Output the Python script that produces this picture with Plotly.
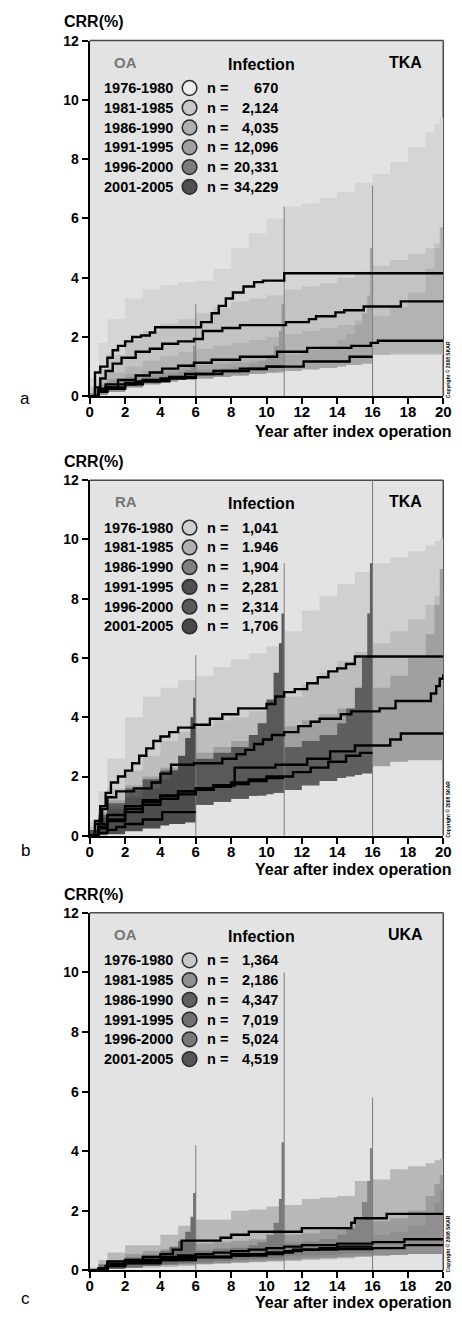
import plotly.graph_objects as go

W, H = 462, 1317
FONT = "Liberation Sans, Arial, sans-serif"

# ---------------- legend data ----------------
PERIODS = ["1976-1980", "1981-1985", "1986-1990", "1991-1995", "1996-2000", "2001-2005"]
N_A = ["670", "2,124", "4,035", "12,096", "20,331", "34,229"]
N_B = ["1,041", "1.946", "1,904", "2,281", "2,314", "1,706"]
N_C = ["1,364", "2,186", "4,347", "7,019", "5,024", "4,519"]
DIAG = ["OA", "RA", "OA"]
IMPLANT = ["TKA", "TKA", "UKA"]
PANEL_LETTERS = ["a", "b", "c"]
X_TICKS = [0, 2, 4, 6, 8, 10, 12, 14, 16, 18, 20]
Y_TICKS = [0, 2, 4, 6, 8, 10, 12]

# ---------------- band grids (years) ----------------
G20 = [0, 0.5, 1, 2, 3, 4, 5, 6, 7, 8, 9, 10, 11, 12, 13, 14, 15, 16, 17, 18, 19, 19.5, 19.8, 20]
G16 = [0, 0.5, 1, 2, 3, 4, 5, 6, 7, 8, 9, 10, 11, 12, 13, 14, 14.5, 15, 15.4, 15.7, 15.85, 16]
G11 = [0, 0.5, 1, 2, 3, 4, 5, 6, 7, 8, 9, 9.5, 10, 10.4, 10.7, 10.85, 11]
G6 = [0, 0.5, 1, 2, 3, 4, 4.5, 5, 5.4, 5.7, 5.85, 6]

# ---------------- panel a: OA TKA ----------------
A76_X = [0, 0.3, 0.6, 1.0, 1.3, 1.6, 2.0, 2.4, 2.9, 3.4, 3.7, 6.3, 6.9, 7.3, 7.7, 8.1, 8.7, 9.3, 9.8, 11.0, 20]
A76_Y = [0, 0.8, 1.0, 1.3, 1.55, 1.7, 1.85, 2.0, 2.05, 2.15, 2.33, 2.5, 2.8, 3.05, 3.3, 3.5, 3.7, 3.85, 3.9, 4.15, 4.15]
A81_X = [0, 0.3, 0.6, 0.9, 1.3, 1.8, 2.6, 3.4, 4.1, 5.0, 5.9, 6.4, 7.5, 8.5, 11.1, 12.4, 12.8, 13.9, 14.4, 15.5, 17.6, 20]
A81_Y = [0, 0.3, 0.6, 0.85, 1.1, 1.3, 1.5, 1.6, 1.77, 1.85, 1.93, 2.2, 2.3, 2.4, 2.5, 2.6, 2.7, 2.83, 2.9, 3.03, 3.2, 3.2]
A86_X = [0, 0.5, 0.9, 1.6, 2.6, 3.4, 4.1, 5.0, 5.9, 6.9, 8.5, 10.6, 12.3, 14.8, 15.9, 16.3, 20]
A86_Y = [0, 0.25, 0.4, 0.55, 0.7, 0.8, 0.93, 1.03, 1.13, 1.23, 1.33, 1.5, 1.63, 1.7, 1.8, 1.87, 1.87]
A91_X = [0, 0.5, 0.9, 1.6, 2.6, 4.0, 5.4, 7.0, 8.5, 10.0, 12.1, 14.7, 16.0]
A91_Y = [0, 0.2, 0.3, 0.4, 0.5, 0.6, 0.75, 0.85, 0.93, 1.0, 1.17, 1.33, 1.33]
A96_X = [0, 0.5, 1.0, 2.0, 3.0, 4.5, 6.0, 7.5, 9.0, 10.0, 11.0]
A96_Y = [0, 0.2, 0.3, 0.45, 0.55, 0.65, 0.75, 0.85, 0.92, 1.0, 1.0]
A01_X = [0, 0.5, 1.0, 2.0, 3.0, 4.5, 6.0]
A01_Y = [0, 0.15, 0.25, 0.4, 0.5, 0.62, 0.67]

A76_HI = [0.6, 1.8, 2.6, 3.3, 3.6, 3.75, 3.85, 3.9, 4.3, 5.0, 5.5, 6.0, 6.4, 6.5, 6.7, 6.9, 7.2, 7.5, 7.9, 8.4, 8.9, 9.2, 9.4, 9.5]
A76_LO = [0, 0.1, 0.3, 0.5, 0.7, 0.9, 1.0, 1.1, 1.3, 1.5, 1.7, 1.9, 2.0, 2.0, 2.0, 2.0, 2.0, 2.0, 2.0, 2.0, 2.0, 2.0, 2.0, 2.0]
A81_HI = [0.3, 0.9, 1.4, 1.9, 2.2, 2.45, 2.6, 2.8, 3.0, 3.2, 3.3, 3.4, 3.6, 3.7, 3.8, 4.0, 4.2, 4.4, 4.6, 4.8, 5.0, 5.15, 5.25, 5.3]
A81_LO = [0, 0.05, 0.3, 0.6, 0.8, 0.9, 1.0, 1.1, 1.15, 1.2, 1.25, 1.3, 1.35, 1.4, 1.4, 1.4, 1.4, 1.4, 1.4, 1.4, 1.4, 1.4, 1.4, 1.4]
A86_HI = [0.1, 0.5, 0.8, 1.0, 1.2, 1.35, 1.5, 1.6, 1.7, 1.8, 1.9, 2.0, 2.1, 2.2, 2.3, 2.4, 2.55, 2.7, 3.0, 3.5, 4.3, 5.0, 5.7, 6.2]
A86_LO = [0, 0.1, 0.2, 0.35, 0.5, 0.65, 0.8, 0.9, 0.95, 1.0, 1.1, 1.15, 1.2, 1.25, 1.3, 1.35, 1.4, 1.4, 1.45, 1.45, 1.45, 1.45, 1.45, 1.45]
A91_HI = [0.1, 0.4, 0.6, 0.75, 0.85, 0.95, 1.0, 1.05, 1.1, 1.15, 1.2, 1.3, 1.4, 1.55, 1.7, 1.9, 2.1, 2.4, 2.8, 3.4, 5.0, 5.0]
A91_LO = [0, 0.05, 0.15, 0.3, 0.4, 0.5, 0.55, 0.6, 0.65, 0.7, 0.75, 0.8, 0.85, 0.9, 0.95, 1.0, 1.05, 1.05, 1.1, 1.1, 1.1, 1.1]
A96_HI = [0.1, 0.35, 0.55, 0.65, 0.75, 0.8, 0.85, 0.9, 0.95, 1.0, 1.1, 1.2, 1.4, 1.7, 2.2, 3.1, 3.1]
A96_LO = [0, 0.05, 0.15, 0.3, 0.4, 0.5, 0.55, 0.6, 0.65, 0.7, 0.75, 0.8, 0.8, 0.8, 0.85, 0.85, 0.85]
A01_HI = [0.1, 0.3, 0.45, 0.55, 0.65, 0.7, 0.75, 0.8, 0.9, 1.1, 1.7, 1.7]
A01_LO = [0, 0.05, 0.15, 0.3, 0.4, 0.5, 0.55, 0.55, 0.6, 0.6, 0.6, 0.6]
A_SPIKE_X = [6, 11, 16]
A_SPIKE_TOP = [3.1, 6.4, 7.1]

# ---------------- panel b: RA TKA ----------------
B76_X = [0, 0.3, 0.6, 0.9, 1.2, 1.6, 2.0, 2.4, 2.8, 3.2, 3.6, 4.0, 4.5, 5.0, 5.9, 6.8, 7.5, 8.4, 10.0, 10.5, 11.0, 11.6, 12.3, 12.9, 13.5, 14.0, 14.5, 15.0, 20]
B76_Y = [0, 0.5, 1.0, 1.45, 1.8, 2.0, 2.2, 2.45, 2.7, 2.95, 3.2, 3.35, 3.5, 3.65, 3.75, 3.95, 4.1, 4.3, 4.45, 4.7, 4.85, 4.95, 5.15, 5.35, 5.55, 5.65, 5.8, 6.05, 6.05]
B81_X = [0, 0.3, 0.7, 1.0, 1.5, 2.5, 3.5, 4.0, 4.6, 5.9, 7.5, 8.3, 8.8, 9.3, 9.8, 10.3, 11.0, 11.8, 12.5, 13.0, 14.2, 14.8, 16.4, 17.3, 19.3, 19.6, 19.8, 20]
B81_Y = [0, 0.4, 0.9, 1.3, 1.5, 1.6, 1.8, 2.1, 2.4, 2.45, 2.6, 2.75, 2.9, 3.1, 3.25, 3.4, 3.5, 3.7, 3.85, 3.95, 4.1, 4.2, 4.3, 4.55, 4.8, 5.05, 5.3, 5.45]
B86_X = [0, 0.5, 1.0, 2.0, 3.0, 4.0, 5.0, 6.0, 7.0, 8.2, 10.5, 12.3, 13.6, 15.0, 17.0, 17.6, 20]
B86_Y = [0, 0.4, 0.7, 1.0, 1.2, 1.35, 1.5, 1.6, 1.7, 2.3, 2.4, 2.6, 2.85, 3.05, 3.25, 3.45, 3.45]
B91_X = [0, 0.5, 1, 2, 3, 4, 5, 6, 7, 8, 9, 10, 11.5, 12.5, 13.5, 14.5, 15.3, 16]
B91_Y = [0, 0.3, 0.55, 0.9, 1.15, 1.35, 1.5, 1.6, 1.7, 1.8, 1.9, 2.0, 2.15, 2.3, 2.5, 2.7, 2.8, 2.8]
B96_X = [0, 0.5, 1, 2, 3, 4, 5, 6, 7, 8, 9, 10, 11]
B96_Y = [0, 0.25, 0.5, 0.8, 1.05, 1.25, 1.4, 1.55, 1.65, 1.75, 1.85, 1.95, 1.95]
B01_X = [0, 0.5, 1, 1.5, 2, 3, 4.1, 6]
B01_Y = [0, 0.1, 0.2, 0.3, 0.4, 0.55, 0.8, 0.8]

B76_HI = [0.5, 1.5, 2.6, 4.0, 4.7, 5.0, 5.25, 5.4, 5.7, 5.95, 6.15, 6.4, 6.9, 7.6, 8.1, 8.5, 8.9, 9.2, 9.4, 9.6, 9.8, 9.95, 10.05, 10.1]
B76_LO = [0, 0.2, 0.5, 0.9, 1.3, 1.7, 2.0, 2.3, 2.5, 2.7, 2.9, 3.1, 3.3, 3.5, 3.7, 3.9, 4.0, 4.1, 4.2, 4.3, 4.4, 4.4, 4.4, 4.4]
B81_HI = [0.3, 1.0, 1.6, 2.2, 2.7, 3.2, 3.5, 3.7, 3.9, 4.0, 4.2, 4.4, 4.7, 5.1, 5.5, 5.9, 6.2, 6.5, 6.9, 7.3, 7.8, 8.1, 8.3, 8.5]
B81_LO = [0, 0.1, 0.3, 0.7, 1.0, 1.3, 1.5, 1.7, 1.9, 2.1, 2.3, 2.5, 2.7, 2.9, 3.1, 3.3, 3.4, 3.5, 3.6, 3.7, 3.8, 3.8, 3.8, 3.8]
B86_HI = [0.2, 0.8, 1.2, 1.7, 2.0, 2.3, 2.6, 2.8, 3.0, 3.2, 3.35, 3.5, 3.7, 3.9, 4.1, 4.3, 4.6, 5.0, 5.4, 6.0, 6.8, 7.8, 9.0, 10.0]
B86_LO = [0, 0.05, 0.2, 0.5, 0.7, 0.9, 1.05, 1.2, 1.35, 1.5, 1.6, 1.7, 1.8, 1.9, 2.0, 2.1, 2.2, 2.35, 2.5, 2.55, 2.55, 2.55, 2.55, 2.55]
B91_HI = [0.2, 0.7, 1.1, 1.6, 1.9, 2.1, 2.3, 2.45, 2.6, 2.7, 2.8, 2.9, 3.0, 3.2, 3.4, 3.8, 4.3, 5.0, 6.0, 7.5, 9.2, 9.2]
B91_LO = [0, 0.05, 0.2, 0.45, 0.65, 0.8, 0.95, 1.05, 1.15, 1.25, 1.35, 1.45, 1.55, 1.7, 1.85, 1.95, 2.0, 2.05, 2.1, 2.1, 2.1, 2.1]
B96_HI = [0.2, 0.6, 1.0, 1.5, 1.9, 2.2, 2.4, 2.6, 2.8, 3.0, 3.4, 3.8, 4.6, 5.5, 6.5, 7.5, 7.5]
B96_LO = [0, 0.05, 0.15, 0.35, 0.5, 0.65, 0.8, 1.05, 1.15, 1.25, 1.35, 1.4, 1.4, 1.45, 1.45, 1.45, 1.45]
B01_HI = [0.2, 0.6, 0.9, 1.3, 1.6, 1.9, 2.2, 2.7, 3.3, 4.0, 4.66, 4.66]
B01_LO = [0, 0.02, 0.05, 0.15, 0.25, 0.35, 0.4, 0.4, 0.45, 0.45, 0.45, 0.45]
B_SPIKE_X = [6, 11, 16]
B_SPIKE_TOP = [6.1, 9.2, 12.0]

# ---------------- panel c: OA UKA ----------------
C76_X = [0, 0.5, 0.9, 1.0, 2.0, 3.0, 4.0, 4.7, 5.2, 7.4, 8.0, 9.0, 12.0, 14.8, 15.0, 16.8, 20]
C76_Y = [0, 0.05, 0.15, 0.3, 0.35, 0.45, 0.55, 0.7, 1.0, 1.1, 1.2, 1.3, 1.42, 1.6, 1.75, 1.9, 1.9]
C81_X = [0, 0.5, 1.0, 2, 3, 4, 5, 6, 7, 8, 9, 10, 11, 12, 14, 16, 17.8, 20]
C81_Y = [0, 0.05, 0.2, 0.3, 0.35, 0.45, 0.5, 0.55, 0.6, 0.65, 0.7, 0.75, 0.8, 0.85, 0.9, 0.95, 1.05, 1.05]
C86_X = [0, 0.5, 1.0, 2, 3, 4, 5, 6, 8, 9, 10, 11, 12, 14, 16, 17.8, 20]
C86_Y = [0, 0.05, 0.15, 0.25, 0.3, 0.35, 0.4, 0.45, 0.5, 0.55, 0.6, 0.65, 0.7, 0.72, 0.75, 0.85, 0.88]
C91_X = [0, 0.5, 1, 2, 4, 6, 8, 10, 11.5, 13, 14, 16]
C91_Y = [0, 0.05, 0.2, 0.3, 0.4, 0.45, 0.55, 0.6, 0.7, 0.75, 0.8, 0.8]
C96_X = [0, 0.5, 1, 2, 4, 6, 8, 10, 11]
C96_Y = [0, 0.05, 0.2, 0.25, 0.35, 0.45, 0.5, 0.55, 0.55]
C01_X = [0, 0.5, 1, 2, 4, 5, 6]
C01_Y = [0, 0.05, 0.15, 0.25, 0.4, 0.45, 0.45]

C76_HI = [0.1, 0.35, 0.6, 0.85, 0.85, 1.2, 1.5, 1.7, 1.7, 2.0, 2.05, 2.15, 2.2, 2.4, 2.45, 2.5, 3.0, 3.05, 3.4, 3.5, 3.6, 3.7, 3.75, 3.75]
C76_LO = [0, 0.02, 0.05, 0.08, 0.1, 0.12, 0.15, 0.2, 0.22, 0.25, 0.28, 0.3, 0.32, 0.35, 0.38, 0.4, 0.45, 0.5, 0.55, 0.6, 0.6, 0.6, 0.6, 0.6]
C81_HI = [0.05, 0.2, 0.35, 0.55, 0.65, 0.72, 0.8, 0.9, 0.95, 1.0, 1.05, 1.1, 1.2, 1.25, 1.35, 1.45, 1.55, 1.65, 1.75, 2.0, 2.5, 2.9, 3.2, 3.4]
C81_LO = [0, 0.02, 0.05, 0.1, 0.15, 0.2, 0.22, 0.25, 0.28, 0.3, 0.33, 0.36, 0.4, 0.43, 0.46, 0.5, 0.52, 0.55, 0.58, 0.6, 0.6, 0.6, 0.6, 0.6]
C86_HI = [0.05, 0.18, 0.3, 0.45, 0.55, 0.6, 0.65, 0.7, 0.75, 0.8, 0.85, 0.9, 0.95, 1.0, 1.05, 1.1, 1.15, 1.2, 1.3, 1.5, 1.9, 2.3, 2.7, 3.0]
C86_LO = [0, 0.02, 0.05, 0.1, 0.15, 0.18, 0.2, 0.22, 0.25, 0.28, 0.3, 0.33, 0.36, 0.4, 0.42, 0.45, 0.48, 0.5, 0.52, 0.55, 0.55, 0.55, 0.55, 0.55]
C91_HI = [0.05, 0.2, 0.3, 0.45, 0.5, 0.55, 0.6, 0.65, 0.7, 0.75, 0.8, 0.85, 0.9, 0.95, 1.05, 1.2, 1.4, 1.7, 2.3, 3.0, 4.1, 4.1]
C91_LO = [0, 0.02, 0.05, 0.12, 0.16, 0.2, 0.24, 0.28, 0.32, 0.36, 0.4, 0.44, 0.48, 0.5, 0.52, 0.55, 0.56, 0.57, 0.58, 0.58, 0.58, 0.58]
C96_HI = [0.05, 0.2, 0.3, 0.42, 0.5, 0.55, 0.6, 0.65, 0.7, 0.75, 0.85, 0.95, 1.2, 1.6, 2.4, 4.3, 4.3]
C96_LO = [0, 0.02, 0.05, 0.12, 0.16, 0.2, 0.24, 0.28, 0.32, 0.36, 0.38, 0.4, 0.4, 0.4, 0.4, 0.4, 0.4]
C01_HI = [0.05, 0.15, 0.25, 0.4, 0.5, 0.65, 0.8, 1.0, 1.3, 1.8, 2.6, 2.6]
C01_LO = [0, 0.02, 0.05, 0.1, 0.15, 0.2, 0.22, 0.25, 0.27, 0.28, 0.28, 0.28]
C_SPIKE_X = [6, 11, 16]
C_SPIKE_TOP = [4.2, 10.0, 5.8]

# ---------------- styles / geometry (pixels) ----------------
PLOT_L, PLOT_R = 88, 451
TOPS = [33, 478, 916]
BOTTOMS = [393, 838, 1278]
BG = "#e3e3e3"
BAND_COLORS = [
    ["#d5d5d5", "#c3c3c3", "#b3b3b3", "#a6a6a6", "#9a9a9a", "#8e8e8e"],
    ["#d0d0d0", "#bdbdbd", "#a0a0a0", "#5f5f5f", "#595959", "#4d4d4d"],
    ["#b8b8b8", "#9c9c9c", "#909090", "#848484", "#7a7a7a", "#6e6e6e"],
]
DOT_COLORS = [
    ["#eeeeee", "#c8c8c8", "#b0b0b0", "#a0a0a0", "#7c7c7c", "#505050"],
    ["#d0d0d0", "#b0b0b0", "#808080", "#505050", "#5a5a5a", "#484848"],
    ["#c8c8c8", "#909090", "#606060", "#707070", "#787878", "#555555"],
]
XTITLE_PY = [429, 872, 1310]
LETTER_PY = [395, 853, 1306]

PANELS = [
    dict(curves=[(A76_X, A76_Y), (A81_X, A81_Y), (A86_X, A86_Y), (A91_X, A91_Y), (A96_X, A96_Y), (A01_X, A01_Y)],
         bands=[(G20, A76_LO, A76_HI), (G20, A81_LO, A81_HI), (G20, A86_LO, A86_HI),
                (G16, A91_LO, A91_HI), (G11, A96_LO, A96_HI), (G6, A01_LO, A01_HI)],
         spikes=(A_SPIKE_X, A_SPIKE_TOP), n=N_A),
    dict(curves=[(B76_X, B76_Y), (B81_X, B81_Y), (B86_X, B86_Y), (B91_X, B91_Y), (B96_X, B96_Y), (B01_X, B01_Y)],
         bands=[(G20, B76_LO, B76_HI), (G20, B81_LO, B81_HI), (G20, B86_LO, B86_HI),
                (G16, B91_LO, B91_HI), (G11, B96_LO, B96_HI), (G6, B01_LO, B01_HI)],
         spikes=(B_SPIKE_X, B_SPIKE_TOP), n=N_B),
    dict(curves=[(C76_X, C76_Y), (C81_X, C81_Y), (C86_X, C86_Y), (C91_X, C91_Y), (C96_X, C96_Y), (C01_X, C01_Y)],
         bands=[(G20, C76_LO, C76_HI), (G20, C81_LO, C81_HI), (G20, C86_LO, C86_HI),
                (G16, C91_LO, C91_HI), (G11, C96_LO, C96_HI), (G6, C01_LO, C01_HI)],
         spikes=(C_SPIKE_X, C_SPIKE_TOP), n=N_C),
]

fig = go.Figure()


def txt(text, px, py, size, color="black", anchor="left", weight="bold", angle=0):
    fig.add_annotation(text=text, x=px / W, y=1 - py / H, xref="paper", yref="paper",
                       showarrow=False, xanchor=anchor, yanchor="middle", textangle=angle,
                       borderpad=0,
                       font=dict(family=FONT, size=size, color=color, weight=weight))


for i, p in enumerate(PANELS):
    sx = "" if i == 0 else str(i + 1)
    xa, ya = "x" + sx, "y" + sx
    top, bot = TOPS[i], BOTTOMS[i]

    # confidence bands
    for k, (gx, lo, hi) in enumerate(p["bands"]):
        fig.add_trace(go.Scatter(x=gx, y=lo, xaxis=xa, yaxis=ya, mode="lines",
                                 line=dict(width=0, shape="hv"), hoverinfo="skip", showlegend=False))
        fig.add_trace(go.Scatter(x=gx, y=hi, xaxis=xa, yaxis=ya, mode="lines", fill="tonexty",
                                 fillcolor=BAND_COLORS[i][k], line=dict(width=0, shape="hv"),
                                 hoverinfo="skip", showlegend=False))
    # thin spikes at the end of follow-up
    for sxv, stop in zip(*p["spikes"]):
        fig.add_trace(go.Scatter(x=[sxv, sxv], y=[0, stop], xaxis=xa, yaxis=ya, mode="lines",
                                 line=dict(color="#7d7d7d", width=1), hoverinfo="skip", showlegend=False))
    # survival curves
    for cx, cy in p["curves"]:
        fig.add_trace(go.Scatter(x=cx, y=cy, xaxis=xa, yaxis=ya, mode="lines",
                                 line=dict(color="black", width=2.4, shape="hv"), showlegend=False))

    dom_x = [PLOT_L / W, PLOT_R / W]
    dom_y = [1 - bot / H, 1 - top / H]
    axis_common = dict(showline=True, linecolor="black", linewidth=2, ticks="outside", ticklen=6,
                       tickwidth=2, tickcolor="black", showgrid=False, zeroline=False, fixedrange=True)
    fig.update_layout(**{
        ("xaxis" + sx): dict(domain=dom_x, range=[0, 20], tickvals=X_TICKS, anchor=ya,
                             ticklabelstandoff=-5,
                             tickfont=dict(family=FONT, size=15, color="black", weight="bold"),
                             **axis_common),
        ("yaxis" + sx): dict(domain=dom_y, range=[0, 12], tickvals=Y_TICKS, anchor=xa,
                             tickfont=dict(family=FONT, size=14, color="black", weight="bold"),
                             **axis_common),
    })

    # frame (top & right)
    fig.add_shape(type="line", xref=xa + " domain", yref=ya + " domain", x0=0, x1=1, y0=1, y1=1,
                  line=dict(color="#4a4a4a", width=1.5), layer="below")
    fig.add_shape(type="line", xref=xa + " domain", yref=ya + " domain", x0=1, x1=1, y0=0, y1=1,
                  line=dict(color="#4a4a4a", width=1.5), layer="below")

    # titles
    txt("CRR(%)", 92, top - 19, 16, anchor="center")
    txt("Year after index operation", 461, XTITLE_PY[i], 16, anchor="right")
    txt(PANEL_LETTERS[i], 22, LETTER_PY[i], 17, weight="normal", anchor="center")
    txt("Copyright © 2008 SKAR", 455.5, bot - 27, 5, angle=-90, anchor="center")

    # in-plot legend
    txt(DIAG[i], 125, top + 22, 15, color="#777777", anchor="center")
    txt("Infection", 264, top + 24, 16, anchor="center")
    txt(IMPLANT[i], 412, top + 22, 16, anchor="center")
    for k in range(6):
        ry = top + 48 + 20 * k
        txt(PERIODS[k], 102, ry, 14.5)
        txt("n =", 207, ry, 14.5)
        txt(p["n"][k], 282, ry, 14.5, anchor="right")
        r = 7.5
        fig.add_shape(type="circle", xref="paper", yref="paper",
                      x0=(190.5 - r) / W, x1=(190.5 + r) / W,
                      y0=1 - (ry + r) / H, y1=1 - (ry - r) / H,
                      fillcolor=DOT_COLORS[i][k], line=dict(color="#2a2a2a", width=1.5), layer="above")

fig.update_layout(width=W, height=H, margin=dict(l=0, r=0, t=0, b=0),
                  paper_bgcolor="white", plot_bgcolor=BG, showlegend=False,
                  font=dict(family=FONT))

fig.write_html("out.html", config={"displayModeBar": False},
               post_script="document.body.style.margin='0';document.body.style.overflow='hidden';")
